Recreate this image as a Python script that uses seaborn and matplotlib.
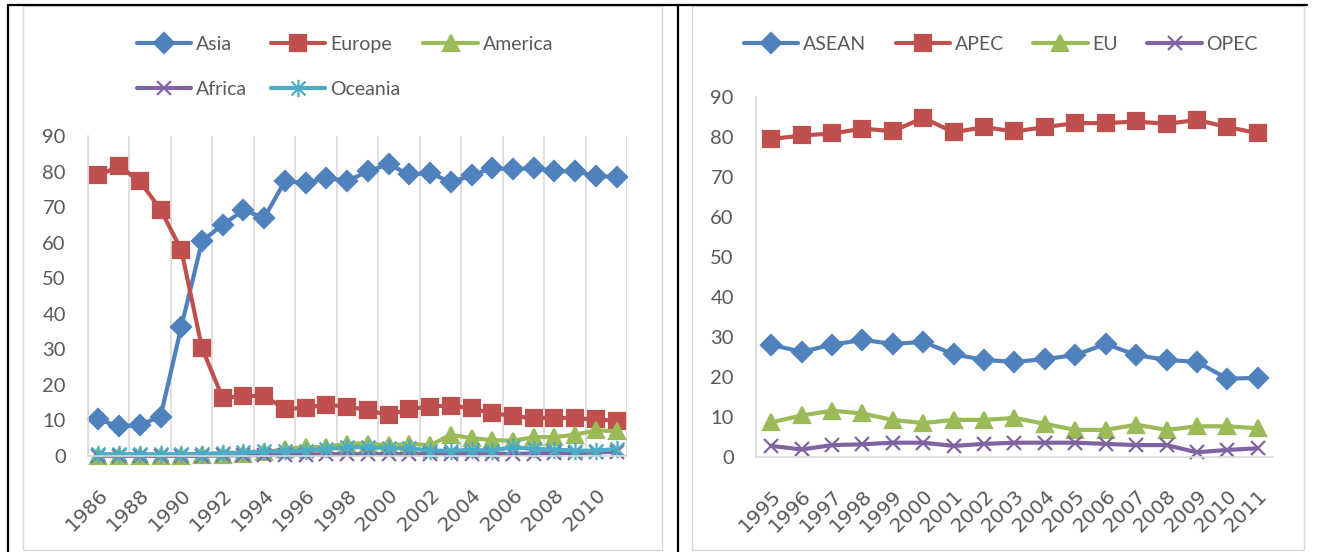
# Share of trade by region (left) and by economic group (right), Excel-style line charts.

import pandas as pd
import matplotlib.pyplot as plt
import seaborn as sns
from matplotlib.lines import Line2D
from matplotlib.patches import Rectangle
from matplotlib.path import Path

# %%
# Values
years_left = list(range(1986, 2012))
asia = [10.3, 8.3, 8.7, 11.1, 36.3, 60.4, 65.1, 69.1, 67.0, 77.3, 76.8, 78.2, 77.3,
        80.1, 82.0, 79.2, 79.6, 77.0, 78.9, 81.0, 80.6, 81.0, 80.1, 80.1, 78.7, 78.5]
europe = [78.9, 81.5, 77.3, 69.3, 58.0, 30.3, 16.3, 16.9, 16.9, 13.2, 13.6, 14.4, 13.9,
          12.9, 11.5, 13.2, 13.9, 14.2, 13.4, 12.0, 11.3, 10.6, 10.8, 10.6, 10.3, 9.9]
america = [0.1, 0.1, 0.1, 0.1, 0.1, 0.2, 0.3, 0.5, 1.0, 2.0, 2.5, 2.5, 3.5,
           3.5, 3.0, 3.5, 3.0, 6.0, 5.0, 4.5, 4.3, 5.3, 5.3, 6.0, 7.2, 7.0]
africa = [0.1, 0.1, 0.1, 0.1, 0.1, 0.1, 0.2, 0.2, 0.3, 0.4, 0.4, 0.5, 0.5,
          0.5, 0.5, 0.5, 0.5, 0.6, 0.6, 0.6, 0.6, 0.7, 0.8, 0.8, 1.0, 1.2]
oceania = [0.5, 0.5, 0.5, 0.5, 0.5, 0.6, 0.8, 1.0, 1.3, 1.3, 1.5, 2.0, 2.5,
           2.5, 2.2, 2.2, 1.5, 1.5, 1.7, 1.5, 2.5, 2.0, 1.8, 1.5, 1.5, 2.0]
regions = ["Asia", "Europe", "America", "Africa", "Oceania"]

years_right = list(range(1995, 2012))
asean = [28.0, 26.2, 28.0, 29.2, 28.2, 28.7, 25.6, 24.2, 23.7, 24.4, 25.4, 28.2, 25.4,
         24.2, 23.7, 19.5, 19.7]
apec = [79.4, 80.3, 80.8, 82.0, 81.4, 84.7, 81.1, 82.4, 81.3, 82.4, 83.4, 83.4, 83.8,
        83.2, 84.2, 82.4, 80.9]
eu = [8.6, 10.3, 11.5, 10.8, 9.2, 8.4, 9.2, 9.2, 9.7, 8.2, 6.7, 6.7, 8.0,
      6.7, 7.6, 7.6, 7.1]
opec = [2.7, 1.8, 2.9, 3.1, 3.5, 3.5, 2.7, 3.2, 3.5, 3.5, 3.5, 3.2, 2.9,
        2.9, 1.1, 1.7, 2.1]
groups = ["ASEAN", "APEC", "EU", "OPEC"]

# %%
blue, red, green, purple, aqua = "#4F81BD", "#C0504D", "#9BBB59", "#8064A2", "#4BACC6"
text_col = "#595959"
grid_col = "#D9D9D9"

# Excel's "star" marker: an x with a vertical bar through it
star = Path([(-1, -1), (1, 1), (-1, 1), (1, -1), (0, -1.25), (0, 1.25)],
            [Path.MOVETO, Path.LINETO, Path.MOVETO, Path.LINETO, Path.MOVETO, Path.LINETO])

styles = {
    "Asia": (blue, "D", 10), "Europe": (red, "s", 11.5), "America": (green, "^", 11.5),
    "Africa": (purple, "x", 10.5), "Oceania": (aqua, star, 12.5),
    "ASEAN": (blue, "D", 10), "APEC": (red, "s", 11.5), "EU": (green, "^", 11.5),
    "OPEC": (purple, "x", 10.5),
}

sns.set_theme(style="white")
plt.rcParams['font.family'] = ['Lato', 'DejaVu Sans']

W, H = 1318, 552
fig = plt.figure(figsize=(W / 100, H / 100), dpi=100)


def px_axes(x0, y0, x1, y1):
    return fig.add_axes([x0 / W, 1 - y1 / H, (x1 - x0) / W, (y1 - y0) / H])


def draw(ax, years, table, names):
    df = pd.DataFrame(table, index=years).reset_index(names="year")
    df = df.melt(id_vars="year", var_name="series", value_name="share")
    for name in names:
        col, mk, ms = styles[name]
        sns.lineplot(data=df[df["series"] == name], x="year", y="share", ax=ax,
                     color=col, marker=mk, markersize=ms, mec=col, mfc=col, mew=1.6,
                     lw=3, label=name, legend=False, clip_on=False)
    ax.set_ylim(0, 90)
    ax.set_yticks(range(0, 91, 10))
    ax.set_xlim(years[0] - 0.5, years[-1] + 0.5)
    ax.set_xlabel("")
    ax.set_ylabel("")
    for s in ["top", "right"]:
        ax.spines[s].set_visible(False)
    for s in ["left", "bottom"]:
        ax.spines[s].set_color(grid_col)
        ax.spines[s].set_linewidth(1.2)
    ax.tick_params(axis="y", length=0, pad=16, labelsize=14.5, labelcolor=text_col)
    ax.tick_params(axis="x", length=0, pad=21, labelsize=14.5, labelcolor=text_col,
                   labelrotation=45)
    plt.setp(ax.get_xticklabels(), ha="right", va="top", rotation_mode="anchor",
             family="DejaVu Sans")
    ax.set_axisbelow(True)


# %%
# Left chart: regions
ax1 = px_axes(88, 136, 627, 456)
ax1.set_xticks(range(1986, 2011, 2))
draw(ax1, years_left, {"Asia": asia, "Europe": europe, "America": america,
                       "Africa": africa, "Oceania": oceania}, regions)
ax1.set_xticks([y + 0.5 for y in range(1985, 2012, 2)], minor=True)
ax1.grid(which="minor", axis="x", color=grid_col, lw=1.2)
ax1.tick_params(which="minor", length=0)

h, l = ax1.get_legend_handles_labels()
order = [0, 3, 1, 4, 2]
fig.legend([h[i] for i in order], [l[i] for i in order], loc="center",
           bbox_to_anchor=(345 / W, 1 - 67 / H), ncol=3, frameon=False,
           handlelength=2.8, handletextpad=0.25, columnspacing=1.2, labelspacing=1.45,
           fontsize=14, labelcolor=text_col)

# %%
# Right chart: economic groups
ax2 = px_axes(756, 96.7, 1273, 456.7)
ax2.set_xticks(years_right)
draw(ax2, years_right, {"ASEAN": asean, "APEC": apec, "EU": eu, "OPEC": opec}, groups)

h, l = ax2.get_legend_handles_labels()
fig.legend(h, l, loc="center", bbox_to_anchor=(1001 / W, 1 - 44 / H), ncol=4,
           frameon=False, handlelength=2.8, handletextpad=0.25, columnspacing=1.5,
           fontsize=14, labelcolor=text_col)

# %%
# Chart-area outlines and the surrounding table borders
for x0, x1 in [(23, 662), (692, 1304)]:
    fig.add_artist(Rectangle((x0 / W, 1 - 550 / H), (x1 - x0) / W, 544 / H,
                             transform=fig.transFigure, fill=False, ec=grid_col, lw=1))
border = dict(transform=fig.transFigure, color="black", lw=1.6)
fig.add_artist(Line2D([8 / W, 1307 / W], [1 - 5 / H, 1 - 5 / H], **border))
fig.add_artist(Line2D([8 / W, 8 / W], [0, 1 - 5 / H], **border))
fig.add_artist(Line2D([678 / W, 678 / W], [0, 1 - 5 / H], **border))

fig.savefig("out.png", dpi=100)
